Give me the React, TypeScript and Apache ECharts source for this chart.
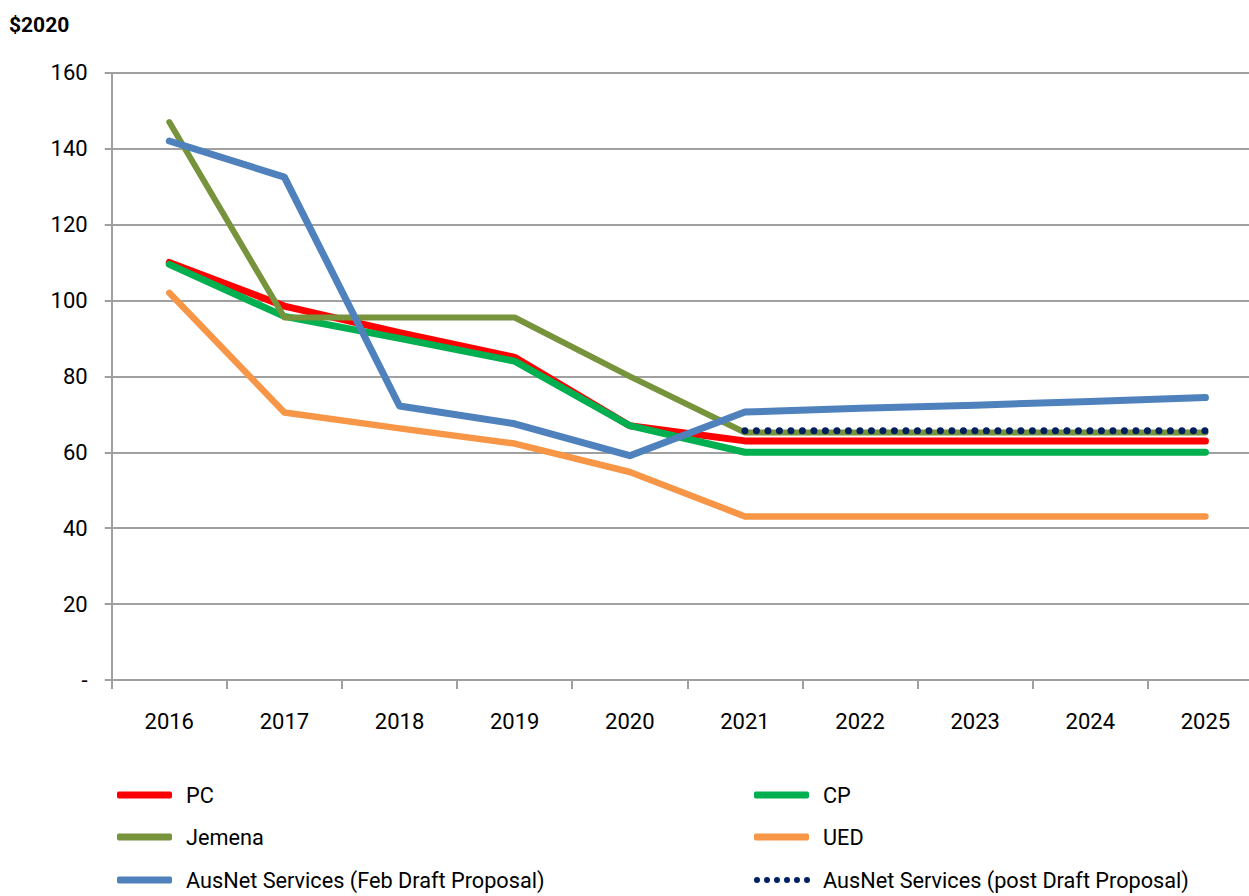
import React, { useEffect, useRef } from "react";
import * as echarts from "echarts";

const years = ["2016", "2017", "2018", "2019", "2020", "2021", "2022", "2023", "2024", "2025"];
const pc = [110, 98.5, 91.5, 85, 67, 63, 63, 63, 63, 63];
const cp = [109.5, 95.8, 90, 84, 67, 60, 60, 60, 60, 60];
const jemena = [147, 95.5, 95.5, 95.5, 80, 65.2, 65.2, 65.2, 65.2, 65.2];
const ued = [102, 70.5, 66.3, 62.3, 54.8, 43.1, 43.1, 43.1, 43.1, 43.1];
const ausnetFeb = [142, 132.5, 72.2, 67.5, 59.1, 70.6, 71.6, 72.4, 73.4, 74.4];
const ausnetPost = [null, null, null, null, null, 65.7, 65.7, 65.7, 65.7, 65.7];

const seriesNames = [
  "PC",
  "CP",
  "Jemena",
  "UED",
  "AusNet Services (Feb Draft Proposal)",
  "AusNet Services (post Draft Proposal)",
];

const FONT = 'Roboto, "Liberation Sans", sans-serif';

function dotsPath(): string {
  // six round dots in a 56 x 6 box
  let d = "path://M0,0 L0,0 ";
  for (let i = 0; i < 6; i++) {
    const cx = 3 + i * 10;
    d += `M${cx - 3},3 a3,3 0 1,0 6,0 a3,3 0 1,0 -6,0 `;
  }
  return d;
}

export default function App() {
  const ref = useRef<HTMLDivElement>(null);
  useEffect(() => {
    const chart = echarts.init(ref.current!, undefined, { renderer: "svg" });
    const mk = (name: string, data: (number | null)[], color: string, width: number, extra: any = {}) => ({
      name,
      type: "line",
      data,
      symbol: "none",
      showSymbol: false,
      color,
      itemStyle: { color },
      lineStyle: { color, width, cap: "round", join: "round", ...extra },
      emphasis: { disabled: true },
    });
    const legendPos = [
      { left: 117, top: 783 },
      { left: 754, top: 783 },
      { left: 117, top: 825 },
      { left: 754, top: 825 },
      { left: 117, top: 868 },
      { left: 754, top: 868 },
    ];
    const legends = seriesNames.map((name, i) => ({
      ...legendPos[i],
      padding: 0,
      itemWidth: i === 5 ? 58 : 55,
      itemHeight: i === 5 ? 6 : 7,
      icon: i === 5 ? dotsPath() : "roundRect",
      data: [name],
      selectedMode: false,
      textStyle: {
        fontSize: 21.7,
        fontFamily: FONT,
        color: "#000",
        lineHeight: 24,
        padding: [0, 0, 0, i === 5 ? 7 : 9],
      },
    }));
    chart.setOption({
      animation: false,
      textStyle: { fontFamily: FONT },
      title: {
        text: "$2020",
        left: 9,
        top: 14,
        padding: 0,
        textStyle: { fontFamily: FONT, fontWeight: "bold", fontSize: 21, color: "#000" },
      },
      grid: { left: 111.7, right: 0, top: 72.7, bottom: 216 },
      xAxis: {
        type: "category",
        data: years,
        boundaryGap: true,
        axisLine: { lineStyle: { color: "#a0a0a0", width: 2 } },
        axisTick: { show: true, length: 9, lineStyle: { color: "#a0a0a0", width: 2 } },
        axisLabel: { color: "#000", fontSize: 22, fontFamily: FONT, margin: 30 },
      },
      yAxis: {
        type: "value",
        min: 0,
        max: 160,
        interval: 20,
        axisLine: { show: true, lineStyle: { color: "#a0a0a0", width: 2 } },
        axisTick: { show: true, length: 7, lineStyle: { color: "#a0a0a0", width: 2 } },
        splitLine: { lineStyle: { color: "#a0a0a0", width: 2 } },
        axisLabel: {
          color: "#000",
          fontSize: 22,
          fontFamily: FONT,
          margin: 24,
          formatter: (v: number) => (v === 0 ? "-" : String(v)),
        },
      },
      legend: legends,
      series: [
        mk(seriesNames[0], pc, "#ff0000", 7),
        mk(seriesNames[1], cp, "#00b050", 7),
        mk(seriesNames[2], jemena, "#77933c", 6),
        mk(seriesNames[3], ued, "#f79646", 6.5),
        mk(seriesNames[4], ausnetFeb, "#4f81bd", 7),
        mk(seriesNames[5], ausnetPost, "#002060", 7, { type: [0, 11.5], cap: "round" }),
      ],
    });
    return () => chart.dispose();
  }, []);
  return (
    <div
      style={{
        position: "absolute",
        left: 0,
        top: 0,
        width: 1249,
        height: 896,
        overflow: "hidden",
        background: "#fff",
      }}
    >
      <div ref={ref} style={{ width: 1263, height: 896 }} />
    </div>
  );
}
